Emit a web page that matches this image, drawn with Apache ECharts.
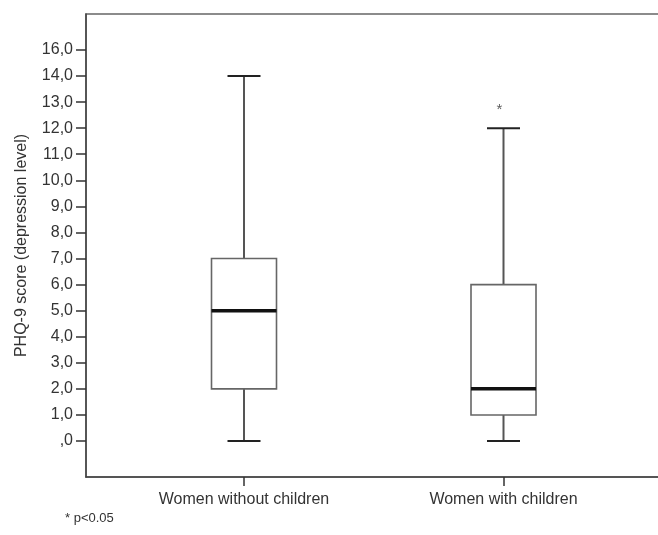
<!DOCTYPE html>
<html>
<head>
<meta charset="utf-8">
<script src="https://cdn.jsdelivr.net/npm/echarts@6/dist/echarts.min.js"></script>
<style>
html,body{margin:0;padding:0;background:#fff;}
#chart{width:658px;height:535px;}
</style>
</head>
<body>
<div id="chart"></div>
<script>
// ---- data ----
const categories = ['Women without children', 'Women with children'];
const whiskerMin = [0, 0];
const q1 = [2, 1];
const median = [5, 2];
const q3 = [7, 6];
const whiskerMax = [14, 12];
const outliers = [[1, 13]]; // [category index, value]
const yTickValues = [0,1,2,3,4,5,6,7,8,9,10,11,12,13,14,15];
const yTickLabels = [',0','1,0','2,0','3,0','4,0','5,0','6,0','7,0','8,0','9,0','10,0','11,0','12,0','13,0','14,0','16,0'];
const yName = 'PHQ-9 score (depression level)';
const footnote = '* p<0.05';

const boxData = categories.map((c, i) => [i, whiskerMin[i], q1[i], median[i], q3[i], whiskerMax[i]]);

const FONT = '"Liberation Sans", Arial, sans-serif';
const yMin = -1.381, yMax = 16.38;

const chart = echarts.init(document.getElementById('chart'), null, {renderer: 'canvas'});

function renderBox(params, api) {
  const i = api.value(0);
  const pMin = api.coord([i, api.value(1)]);
  const pQ1 = api.coord([i, api.value(2)]);
  const pMed = api.coord([i, api.value(3)]);
  const pQ3 = api.coord([i, api.value(4)]);
  const pMax = api.coord([i, api.value(5)]);
  const cx = pMed[0];
  const bw = 65, cw = 33;
  const whisk = {stroke: '#555', lineWidth: 2};
  const cap = {stroke: '#222', lineWidth: 2};
  return {
    type: 'group',
    children: [
      {type: 'line', shape: {x1: cx, y1: pQ3[1], x2: cx, y2: pMax[1]}, style: whisk},
      {type: 'line', shape: {x1: cx, y1: pQ1[1], x2: cx, y2: pMin[1]}, style: whisk},
      {type: 'line', shape: {x1: cx - cw/2, y1: pMax[1], x2: cx + cw/2, y2: pMax[1]}, style: cap},
      {type: 'line', shape: {x1: cx - cw/2, y1: pMin[1], x2: cx + cw/2, y2: pMin[1]}, style: cap},
      {type: 'rect', shape: {x: cx - bw/2, y: pQ3[1], width: bw, height: pQ1[1] - pQ3[1]},
        style: {fill: '#fff', stroke: '#666', lineWidth: 1.6}},
      {type: 'line', shape: {x1: cx - bw/2, y1: pMed[1], x2: cx + bw/2, y2: pMed[1]},
        style: {stroke: '#111', lineWidth: 3.5}}
    ]
  };
}

const option = {
  backgroundColor: '#fff',
  animation: false,
  grid: [
    {left: 86, top: 14, right: -6, bottom: 58, show: true, borderColor: '#666', borderWidth: 1.5,
      backgroundColor: 'transparent', outerBoundsMode: 'none'},
    {left: 114.25, top: 14, right: 24.75, bottom: 58, outerBoundsMode: 'none'}
  ],
  xAxis: [
    {type: 'value', gridIndex: 0, min: 0, max: 1, position: 'bottom',
      axisLine: {show: true, onZero: false, lineStyle: {color: '#444', width: 1.5}},
      axisTick: {show: false}, axisLabel: {show: false}, splitLine: {show: false}},
    {type: 'category', gridIndex: 1, data: categories, boundaryGap: true, position: 'bottom',
      axisLine: {show: false, onZero: false},
      axisTick: {show: true, alignWithLabel: true, length: 9, lineStyle: {color: '#333', width: 1.5}},
      axisLabel: {margin: 15, fontSize: 16, color: '#333', fontFamily: FONT},
      splitLine: {show: false}}
  ],
  yAxis: [
    {type: 'value', gridIndex: 0, min: yMin, max: yMax,
      name: yName, nameLocation: 'middle', nameGap: 56,
      nameTextStyle: {fontSize: 16, color: '#333', fontFamily: FONT},
      axisLine: {show: true, onZero: false, lineStyle: {color: '#444', width: 1.5}},
      axisTick: {show: true, customValues: yTickValues, length: 10, lineStyle: {color: '#333', width: 1.5}},
      axisLabel: {customValues: yTickValues, margin: 13, fontSize: 16, color: '#333', fontFamily: FONT,
        formatter: v => yTickLabels[yTickValues.indexOf(Math.round(v))]},
      splitLine: {show: false}},
    {type: 'value', gridIndex: 1, min: yMin, max: yMax, show: false}
  ],
  series: [
    {type: 'custom', xAxisIndex: 1, yAxisIndex: 1, data: boxData, renderItem: renderBox,
      encode: {x: 0, y: [1, 2, 3, 4, 5]}},
    {type: 'scatter', xAxisIndex: 1, yAxisIndex: 1, data: outliers, symbolSize: 1,
      itemStyle: {color: 'rgba(0,0,0,0)'},
      label: {show: true, formatter: '*', position: 'inside', offset: [-4, 8],
        fontSize: 15, color: '#333', fontFamily: FONT}}
  ],
  graphic: [
    {type: 'text', left: 65, top: 512, style: {text: footnote, fontSize: 13, fill: '#333', font: '13px ' + FONT}}
  ]
};
chart.setOption(option);
</script>
</body>
</html>
